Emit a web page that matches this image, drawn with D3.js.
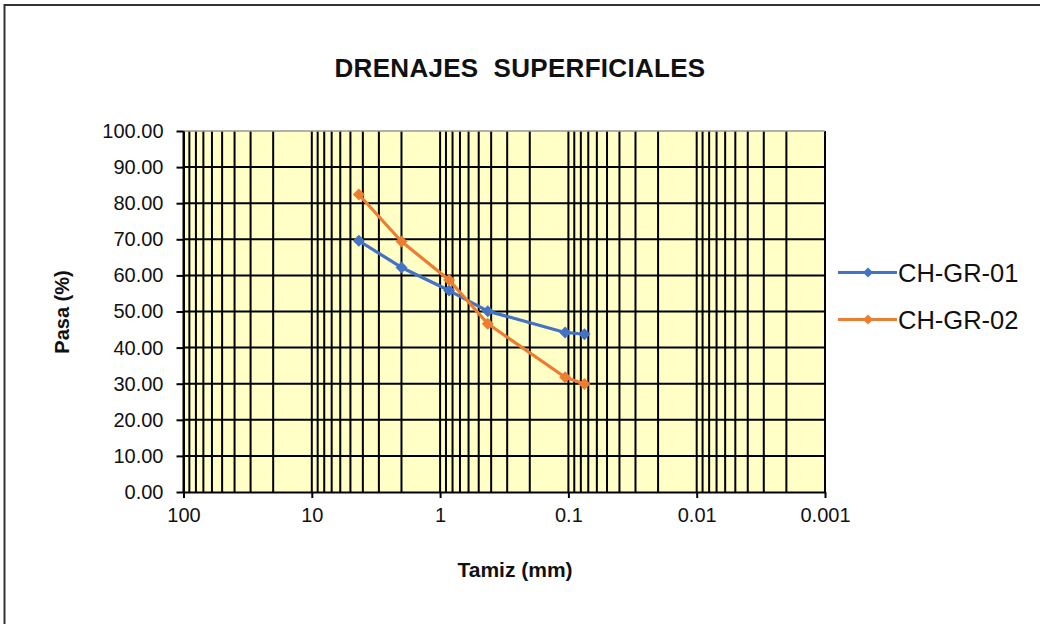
<!DOCTYPE html>
<html>
<head>
<meta charset="utf-8">
<script src="https://cdn.jsdelivr.net/npm/d3@7"></script>
<style>
  body { margin: 0; background: #fff; }
  text { font-family: "Liberation Sans", Arial, sans-serif; }
</style>
</head>
<body>
<script>
// Curva granulometrica - drenajes superficiales

// Data
var tamiz = [4.3, 2.0, 0.85, 0.425, 0.106, 0.075];
var chGr01 = [69.6, 62.2, 55.8, 50.1, 44.2, 43.7];
var chGr02 = [82.4, 69.4, 58.7, 46.6, 31.8, 29.9];
var seriesNames = ["CH-GR-01", "CH-GR-02"];
var seriesColors = ["#4472C4", "#ED7D31"];
var xTickValues = [100, 10, 1, 0.1, 0.01, 0.001];
var xTickLabels = ["100", "10", "1", "0.1", "0.01", "0.001"];
var yTickValues = [0, 10, 20, 30, 40, 50, 60, 70, 80, 90, 100];

var svgwidth = 1040;
var svgheight = 624;

var margin = {
    top: 131,
    right: 215,
    bottom: 132,
    left: 183.5,
}

var width = svgwidth - margin.left - margin.right;
var height = svgheight - margin.top - margin.bottom;

var svg = d3.select("body")
            .append("svg")
            .attr("width", svgwidth)
            .attr("height", svgheight);

// outer frame (only top and left edges are visible)
svg.append("rect")
    .attr("x", 4.5)
    .attr("y", 5)
    .attr("width", 1100)
    .attr("height", 700)
    .attr("fill", "none")
    .attr("stroke", "#333")
    .attr("stroke-width", 2);

var chartGroup = svg.append("g")
                .attr("transform", `translate(${margin.left}, ${margin.top})`);

// scales
var xLogScale = d3.scaleLog()
        .domain([100, 0.001])
        .range([0, width]);

var yLinearScale = d3.scaleLinear()
        .domain([0, 100])
        .range([height, 0]);

// plot area
chartGroup.append("rect")
    .attr("width", width)
    .attr("height", height)
    .attr("fill", "#FFFFC6");

// gridlines
chartGroup.append("g")
    .selectAll("line")
    .data(xLogScale.ticks())
    .enter()
    .append("line")
    .attr("x1", d => xLogScale(d))
    .attr("x2", d => xLogScale(d))
    .attr("y1", 0)
    .attr("y2", height)
    .attr("stroke", "#000")
    .attr("stroke-width", 2);

chartGroup.append("g")
    .selectAll("line")
    .data(yTickValues.filter(d => d > 0 && d < 100))
    .enter()
    .append("line")
    .attr("x1", 0)
    .attr("x2", width)
    .attr("y1", d => yLinearScale(d))
    .attr("y2", d => yLinearScale(d))
    .attr("stroke", "#000")
    .attr("stroke-width", 2);

chartGroup.append("line")
    .attr("x1", 0)
    .attr("x2", width)
    .attr("y1", 0)
    .attr("y2", 0)
    .attr("stroke", "#999")
    .attr("stroke-width", 1.5);

// axes
var bottomAxis = d3.axisBottom(xLogScale)
        .tickValues(xTickValues)
        .tickFormat((d, i) => xTickLabels[i])
        .tickSizeInner(6)
        .tickSizeOuter(0)
        .tickPadding(10);

var leftAxis = d3.axisLeft(yLinearScale)
        .tickValues(yTickValues)
        .tickFormat(d3.format(".2f"))
        .tickSizeInner(7)
        .tickSizeOuter(0)
        .tickPadding(13);

var xAxisG = chartGroup.append("g")
    .attr("transform", `translate(0, ${height})`)
    .call(bottomAxis);

var yAxisG = chartGroup.append("g")
    .call(leftAxis);

[xAxisG, yAxisG].forEach(function(g) {
    g.select(".domain").attr("stroke", "#000").attr("stroke-width", 2);
    g.selectAll(".tick line").attr("stroke", "#000").attr("stroke-width", 2);
    g.selectAll(".tick text")
        .attr("font-size", "20px")
        .attr("font-family", "'Liberation Sans', Arial, sans-serif")
        .attr("fill", "#111");
});

// series
var line = d3.line()
    .x(d => xLogScale(d[0]))
    .y(d => yLinearScale(d[1]));

var allSeries = [chGr01, chGr02];
var diamond = d3.symbol().type(d3.symbolSquare).size(72);

allSeries.forEach(function(values, s) {
    var points = tamiz.map((t, i) => [t, values[i]]);

    chartGroup.append("path")
        .datum(points)
        .attr("d", line)
        .attr("fill", "none")
        .attr("stroke", seriesColors[s])
        .attr("stroke-width", 3.2)
        .attr("stroke-linejoin", "round");

    chartGroup.selectAll(".marker" + s)
        .data(points)
        .enter()
        .append("path")
        .attr("class", "marker" + s)
        .attr("d", diamond)
        .attr("transform", d => `translate(${xLogScale(d[0])}, ${yLinearScale(d[1])}) rotate(45)`)
        .attr("fill", seriesColors[s]);
});

// legend
var legend = svg.append("g");
seriesNames.forEach(function(name, s) {
    var ly = 272.5 + s * 47;
    legend.append("line")
        .attr("x1", 838)
        .attr("x2", 897)
        .attr("y1", ly)
        .attr("y2", ly)
        .attr("stroke", seriesColors[s])
        .attr("stroke-width", 3.2);
    legend.append("path")
        .attr("d", d3.symbol().type(d3.symbolSquare).size(50))
        .attr("transform", `translate(868, ${ly}) rotate(45)`)
        .attr("fill", seriesColors[s]);
    legend.append("text")
        .attr("x", 898)
        .attr("y", ly + 9)
        .attr("font-size", "25.5px")
        .attr("fill", "#111")
        .text(name);
});

// titles
svg.append("text")
    .attr("x", 520)
    .attr("y", 77)
    .attr("text-anchor", "middle")
    .attr("font-size", "26px")
    .attr("font-weight", "bold")
    .attr("letter-spacing", "0.3px")
    .attr("fill", "#111")
    .style("white-space", "pre")
    .text("DRENAJES  SUPERFICIALES");

svg.append("text")
    .attr("x", 515)
    .attr("y", 577)
    .attr("text-anchor", "middle")
    .attr("font-size", "21px")
    .attr("font-weight", "bold")
    .attr("fill", "#111")
    .text("Tamiz (mm)");

svg.append("text")
    .attr("transform", "rotate(-90)")
    .attr("x", -312)
    .attr("y", 69)
    .attr("text-anchor", "middle")
    .attr("font-size", "20px")
    .attr("font-weight", "bold")
    .attr("fill", "#111")
    .text("Pasa (%)");
</script>
</body>
</html>
